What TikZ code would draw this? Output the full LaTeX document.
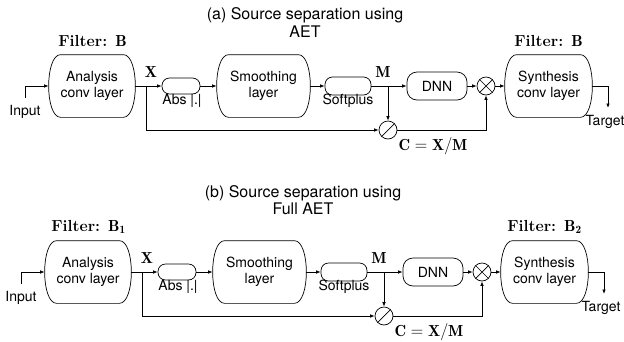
\documentclass[tikz,border=0pt]{standalone}
\usepackage{fontspec}
\newfontfamily\hv{TeX Gyre Heros}
\usetikzlibrary{arrows.meta}
\tikzset{
  lbl/.style={font=\hv\fontsize{14}{16.5}\selectfont, inner sep=0pt},
  ttl/.style={font=\hv\fontsize{16}{17.5}\selectfont, align=center, inner sep=0pt},
  mth/.style={font=\fontsize{16}{18}\selectfont, inner sep=0pt},
  blk/.style={draw=none, minimum height=62pt, inner sep=0pt, align=center, font=\hv\fontsize{14}{16.5}\selectfont},
  pill/.style={draw, rounded corners=7.5pt, inner sep=0pt, minimum height=16pt},
  dnnbox/.style={draw, rounded corners=10pt, inner sep=0pt, minimum width=60pt, minimum height=28pt, font=\hv\fontsize{14}{16.5}\selectfont},
  circ/.style={draw, circle, minimum size=18pt, inner sep=0pt},
  arr/.style={-{Latex[length=4.5pt,width=3.5pt]}},
  every path/.style={line width=0.7pt}
}
\newcommand\blkoutline[1]{%
  \draw ([xshift=12pt]#1.north west) -- ([xshift=-12pt]#1.north east)
    .. controls ([xshift=4pt]#1.north east) and ([xshift=4pt]#1.south east) .. ([xshift=-12pt]#1.south east)
    -- ([xshift=12pt]#1.south west)
    .. controls ([xshift=-4pt]#1.south west) and ([xshift=-4pt]#1.north west) .. cycle;}
\newcommand\panel[2]{%
  \node[blk, minimum width=86pt] (ana) at (92,86) {Analysis\\conv layer};
  \blkoutline{ana}
  \node[pill, minimum width=38pt] (abs) at (181,86) {};
  \node[blk, minimum width=93pt] (smo) at (263.5,86) {Smoothing\\layer};
  \blkoutline{smo}
  \node[pill, minimum width=46pt, minimum height=18pt] (sp) at (348,86) {};
  \node[dnnbox] (dnn) at (437,86) {DNN};
  \node[circ] (mul) at (486,86) {};
  \draw (mul.north west) -- (mul.south east) (mul.north east) -- (mul.south west);
  \node[blk, minimum width=87pt] (syn) at (548.5,86) {Synthesis\\conv layer};
  \blkoutline{syn}
  \node[circ] (div) at (388,130) {};
  \draw (div.south west) -- (div.north east);
  \coordinate (in0) at (25,98);
  \coordinate (bx) at (146,86);
  \coordinate (bm) at (388,86);
  \coordinate (tgt) at (608,108);
  \draw[arr] (in0) |- (ana.west);
  \draw[arr] (ana.east) -- (abs.west);
  \draw[arr] (bx) |- (div.west);
  \draw[arr] (abs.east) -- (smo.west);
  \draw[arr] (smo.east) -- (sp.west);
  \draw[arr] (sp.east) -- (dnn.west);
  \draw[arr] (bm) -- (div.north);
  \draw[arr] (dnn.east) -- (mul.west);
  \draw[arr] (div.east) -| (mul.south);
  \draw[arr] (mul.east) -- (syn.west);
  \draw[arr] (syn.east) -| (tgt);
  \node[lbl] (tin) at (25,112) {Input};
  \node[lbl] (ttg) at (605,122) {Target};
  \node[lbl] (tabs) at (182,101) {Abs |.|};
  \node[lbl] (tsp) at (348,101) {Softplus};
  \node[mth] (tx) at (151,72) {$\mathbf{X}$};
  \node[mth] (tm) at (383,72) {$\mathbf{M}$};
  \node[mth] (tc) at (433,146) {$\mathbf{C}=\mathbf{X}/\mathbf{M}$};
  \node[mth] (fl) at (92.5,41) {\bfseries Filter: $\mathbf{#1}$};
  \node[mth] (fr) at (548.5,41) {\bfseries Filter: $\mathbf{#2}$};
}
\begin{document}
\begin{tikzpicture}[x=1pt, y=-1pt]
  \useasboundingbox (0,0) rectangle (624,341);
  \node[ttl] (ta) at (305,22.5) {(a) Source separation using\\AET};
  \node[ttl] (tb) at (303,200) {(b) Source separation using\\Full AET};
  \begin{scope}[name prefix=a-]
    \panel{B}{B}
  \end{scope}
  \begin{scope}[name prefix=b-, shift={(-4,186)}]
    \panel{B_1}{B_2}
  \end{scope}
\end{tikzpicture}
\end{document}
